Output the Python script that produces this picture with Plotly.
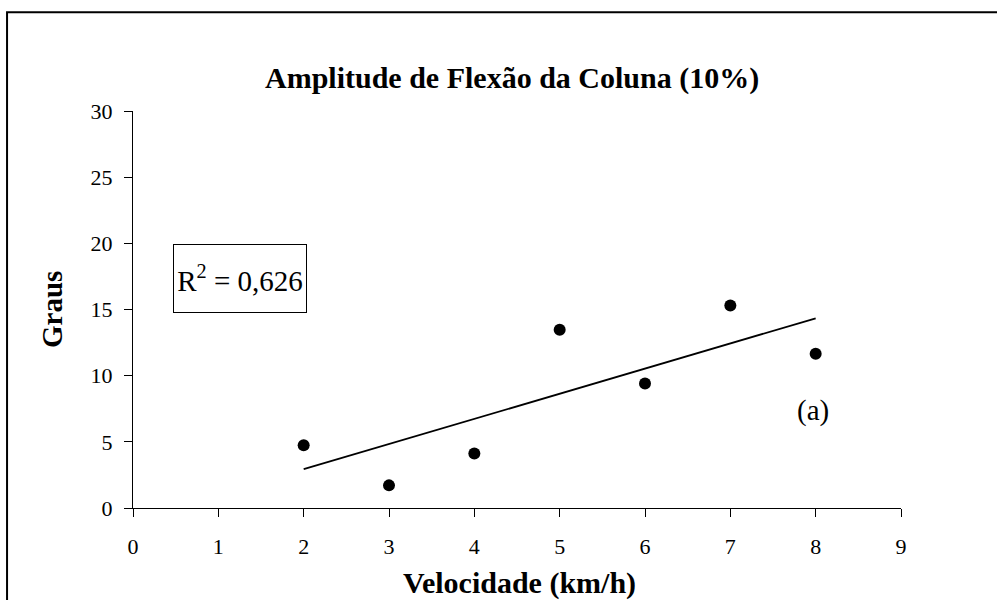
import numpy as np
import plotly.graph_objects as go

# Speed (km/h) and spine flexion amplitude (degrees)
velocidade = [2, 3, 4, 5, 6, 7, 8]
graus = [4.75, 1.71, 4.12, 13.47, 9.40, 15.31, 11.66]
x_ticks = [0, 1, 2, 3, 4, 5, 6, 7, 8, 9]
y_ticks = [0, 5, 10, 15, 20, 25, 30]
r2_text = "0,626"

FONT = "Liberation Serif, Times New Roman, serif"

# Linear trend line from a least-squares fit of the data
slope, intercept = np.polyfit(velocidade, graus, 1)
trend_x = [min(velocidade), max(velocidade)]
trend_y = [slope * v + intercept for v in trend_x]

fig = go.Figure()
fig.add_trace(go.Scatter(
    x=trend_x, y=trend_y, mode="lines",
    line=dict(color="black", width=1.8),
    showlegend=False, hoverinfo="skip",
))
fig.add_trace(go.Scatter(
    x=velocidade, y=graus, mode="markers",
    marker=dict(color="black", size=12, symbol="circle"),
    showlegend=False,
))

axis_common = dict(
    showgrid=False, zeroline=False, showline=True,
    linecolor="black", linewidth=1.3,
    ticks="outside", ticklen=8, tickwidth=1.3, tickcolor="black",
    tickfont=dict(family=FONT, size=22, color="black"),
)

fig.update_xaxes(range=[0, 9], tickvals=x_ticks, ticktext=[str(t) for t in x_ticks],
                 ticklabelstandoff=10, **axis_common)
fig.update_yaxes(range=[0, 30], tickvals=y_ticks, ticktext=[str(t) for t in y_ticks],
                 ticklabelstandoff=7, **axis_common)

fig.update_layout(
    width=997, height=600,
    margin=dict(l=133, r=96, t=111, b=92),
    plot_bgcolor="white", paper_bgcolor="white",
    font=dict(family=FONT, color="black"),
    showlegend=False,
)

# Outer chart frame
fig.add_shape(
    type="rect", xref="paper", yref="paper",
    x0=-0.164, x1=1.15, y0=-0.3, y1=1.249,
    line=dict(color="black", width=2), fillcolor="rgba(0,0,0,0)", layer="below",
)

# Title and axis titles
fig.add_annotation(
    text="<b>Amplitude de Flexão da Coluna (10%)</b>",
    xref="paper", yref="paper", x=(512 - 133) / 768, y=(508 - 78) / 397,
    showarrow=False, font=dict(family=FONT, size=30, color="black"),
    xanchor="center", yanchor="middle",
)
fig.add_annotation(
    text="<b>Velocidade (km/h)</b>",
    xref="paper", yref="paper", x=(519 - 133) / 768, y=(508 - 583) / 397,
    showarrow=False, font=dict(family=FONT, size=30, color="black"),
    xanchor="center", yanchor="middle",
)
fig.add_annotation(
    text="<b>Graus</b>",
    xref="paper", yref="paper", x=(52 - 133) / 768, y=(508 - 310) / 397,
    showarrow=False, font=dict(family=FONT, size=29, color="black"),
    textangle=-90, xanchor="center", yanchor="middle",
)

# R² box and panel label
fig.add_annotation(
    text="R<sup>2</sup> = " + r2_text,
    xref="paper", yref="paper", x=(240 - 133) / 768, y=(508 - 278.5) / 397,
    showarrow=False, font=dict(family=FONT, size=29, color="black"),
    width=132, height=67, borderpad=0,
    bordercolor="black", borderwidth=1, bgcolor="white",
    xanchor="center", yanchor="middle", align="center", valign="middle",
)
fig.add_annotation(
    text="(a)",
    xref="paper", yref="paper", x=(813 - 133) / 768, y=(508 - 410) / 397,
    showarrow=False, font=dict(family=FONT, size=29, color="black"),
    xanchor="center", yanchor="middle",
)

fig.write_html("out.html")
